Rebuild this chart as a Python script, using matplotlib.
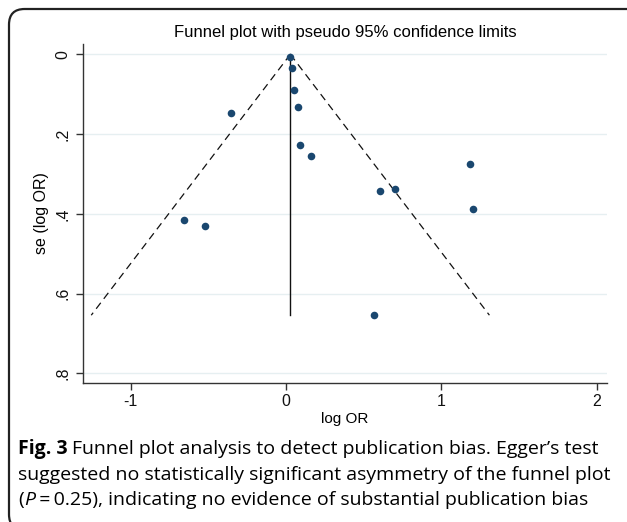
import matplotlib
matplotlib.use("Agg")
import matplotlib.pyplot as plt
import numpy as np
from matplotlib.patches import FancyBboxPatch

# Data
log_or = [0.028, 0.041, 0.052, 0.080, -0.355, 0.093, 0.162, 1.187, 0.605, 0.700,
          1.203, -0.659, -0.520, 0.567]
se_log_or = [0.006, 0.034, 0.090, 0.133, 0.148, 0.227, 0.254, 0.275, 0.343, 0.338,
             0.387, 0.415, 0.430, 0.654]
pooled = 0.028
xticks = [-1, 0, 1, 2]
yticks = [0, 0.2, 0.4, 0.6, 0.8]
yticklabels = ["0", ".2", ".4", ".6", ".8"]

W, H = 627, 522
fig = plt.figure(figsize=(W / 100, H / 100), dpi=100)
fig.patch.set_facecolor("white")

ax = fig.add_axes([83 / W, 1 - 383 / H, (607 - 83) / W, (383 - 44) / H])
navy = "#1a476f"

# funnel
se_max = max(se_log_or)
se_line = np.array([0, se_max])
ax.plot(pooled - 1.96 * se_line, se_line, color="#111111", lw=0.9, ls=(0, (6, 4)))
ax.plot(pooled + 1.96 * se_line, se_line, color="#111111", lw=0.9, ls=(0, (6, 4)))
ax.plot([pooled, pooled], [0, se_max], color="#111111", lw=1.0)

ax.scatter(log_or, se_log_or, s=30, color=navy, zorder=3, linewidths=0)

ax.set_xlim(-1.307, 2.067)
ax.set_ylim(0.824, -0.026)
ax.set_xticks(xticks)
ax.set_xticklabels([str(t) for t in xticks])
ax.set_yticks(yticks)
ax.set_yticklabels(yticklabels, rotation=90, va="center")
for y in yticks:
    ax.axhline(y, color="#e6eff1", lw=1.0, zorder=0)

for s in ["top", "right"]:
    ax.spines[s].set_visible(False)
for s in ["left", "bottom"]:
    ax.spines[s].set_color("#333333")
    ax.spines[s].set_linewidth(1.0)
ax.tick_params(direction="out", length=5, width=1.0, color="#333333",
               labelsize=11.5, labelcolor="#111111", pad=3)
ax.tick_params(axis="y", pad=4)

font = "Liberation Sans"
for lab in ax.get_xticklabels() + ax.get_yticklabels():
    lab.set_family(font)

ax.set_xlabel("log OR", family=font, fontsize=11, labelpad=2)
ax.set_ylabel("se (log OR)", family=font, fontsize=11.5, labelpad=5)

fig.text(345 / W, 1 - 32 / H, "Funnel plot with pseudo 95% confidence limits",
         family=font, fontsize=12, ha="center", va="center")

# caption
cap_font = "Open Sans"
cs = 14
t1 = fig.text(18 / W, 1 - 449 / H, "Fig. 3", family=cap_font, fontsize=cs,
              fontweight="bold", ha="left", va="center")
fig.canvas.draw()
bb = t1.get_window_extent()
fig.text((bb.x1 + 4) / W, 1 - 449 / H,
         "Funnel plot analysis to detect publication bias. Egger\u2019s test",
         family=cap_font, fontsize=cs, ha="left", va="center")
fig.text(18 / W, 1 - 475 / H,
         "suggested no statistically significant asymmetry of the funnel plot",
         family=cap_font, fontsize=cs, ha="left", va="center")
t3a = fig.text(18 / W, 1 - 500 / H, "(", family=cap_font, fontsize=cs,
               ha="left", va="center")
fig.canvas.draw()
bb = t3a.get_window_extent()
t3b = fig.text(bb.x1 / W, 1 - 500 / H, "P", family=cap_font, fontsize=cs,
               style="italic", ha="left", va="center")
fig.canvas.draw()
bb = t3b.get_window_extent()
fig.text((bb.x1 + 1) / W, 1 - 500 / H,
         "\u2009=\u20090.25), indicating no evidence of substantial publication bias",
         family=[cap_font, "DejaVu Sans"], fontsize=cs, ha="left", va="center")

# rounded frame
frame = FancyBboxPatch((9 / W, 1 - 530 / H), (700 - 9) / W, (530 - 9) / H,
                       boxstyle="round,pad=0,rounding_size=0.025",
                       transform=fig.transFigure, fill=False,
                       edgecolor="#222222", lw=1.6, mutation_aspect=W / H)
fig.patches.append(frame)

fig.savefig("out.png", dpi=100)
